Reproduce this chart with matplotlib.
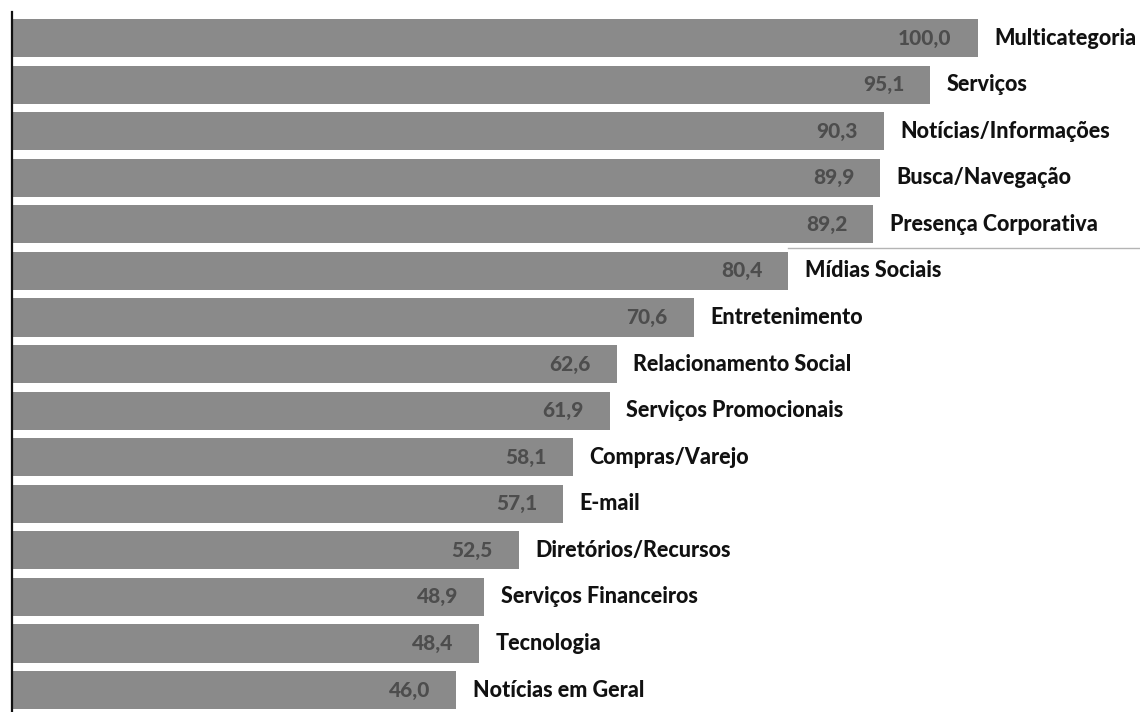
import matplotlib
matplotlib.use("Agg")
import matplotlib.pyplot as plt

categories = [
    "Multicategoria",
    "Serviços",
    "Notícias/Informações",
    "Busca/Navegação",
    "Presença Corporativa",
    "Mídias Sociais",
    "Entretenimento",
    "Relacionamento Social",
    "Serviços Promocionais",
    "Compras/Varejo",
    "E-mail",
    "Diretórios/Recursos",
    "Serviços Financeiros",
    "Tecnologia",
    "Notícias em Geral",
]
values = [100.0, 95.1, 90.3, 89.9, 89.2, 80.4, 70.6, 62.6, 61.9, 58.1,
          57.1, 52.5, 48.9, 48.4, 46.0]

plt.rcParams["font.family"] = ["Lato", "DejaVu Sans"]

fig = plt.figure(figsize=(11.4, 7.12), dpi=100)
ax = fig.add_axes([12 / 1140, 0, 1 - 12 / 1140, 700 / 712])

pos = list(range(len(values)))
ax.barh(pos, values, height=0.82, color="#8a8a8a", edgecolor="none")

for y, v, name in zip(pos, values, categories):
    ax.text(v - 2.7, y, f"{v:.1f}".replace(".", ","), ha="right", va="center",
            fontsize=15, fontweight="black", color="#4d4d4d")
    ax.text(v + 1.7, y, name, ha="left", va="center",
            fontsize=15.5, fontweight="black", color="#111111")

# faint separator line right of the sixth bar
ax.plot([values[5], 117], [4.5, 4.5], color="#b4b4b4", lw=1, clip_on=False)

ax.set_xlim(0, 116.8)
ax.set_ylim(14.47, -0.56)
for side in ["top", "right", "bottom"]:
    ax.spines[side].set_visible(False)
ax.spines["left"].set_linewidth(1.6)
ax.spines["left"].set_color("#111111")
ax.set_xticks([])
ax.set_yticks([])

fig.savefig("out.png", dpi=100)
